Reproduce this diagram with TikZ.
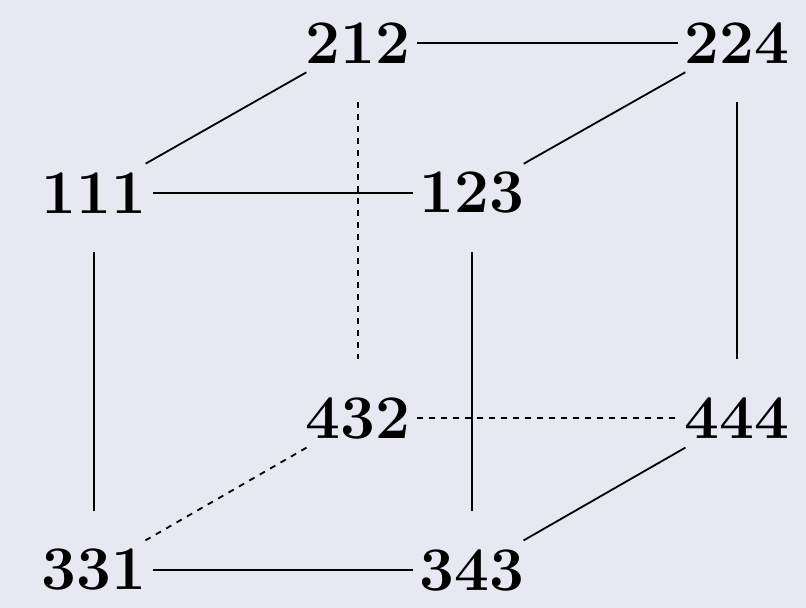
\documentclass[tikz,border=0pt]{standalone}
\usepackage{fontspec}
\usetikzlibrary{positioning}
\definecolor{CubePaper}{HTML}{E8E8F2}
\definecolor{CubeInk}{HTML}{000000}
\tikzset{
  every node/.style={text=CubeInk},
  vertex/.style={circle, inner sep=0pt, minimum size=59pt, font=\fontsize{31}{36}\selectfont\bfseries},
  edge/.style={draw=CubeInk, line width=0.9pt},
  hidden/.style={draw=CubeInk, line width=0.9pt, dashed},
}

\begin{document}
\begin{tikzpicture}[x=0.5pt,y=-0.5pt]
  % Canvas: units are pixels of the 806 x 608 frame
  \fill[CubePaper] (0,0) rectangle (806,608);
  \useasboundingbox (0,0) rectangle (806,608);
  % Back face
  \node[vertex] (b212) at (358,43) {212};
  \node[vertex] (b224) at (737,43) {224};
  \node[vertex] (b432) at (358,418) {432};
  \node[vertex] (b444) at (737,418) {444};
  % Front face
  \node[vertex] (f111) at (94,193) {111};
  \node[vertex] (f123) at (472,193) {123};
  \node[vertex] (f331) at (94,570) {331};
  \node[vertex] (f343) at (472,570) {343};
  % Visible edges
  \draw[edge] (b212) -- (b224);
  \draw[edge] (f111) -- (f123);
  \draw[edge] (f331) -- (f343);
  \draw[edge] (f111) -- (b212);
  \draw[edge] (f123) -- (b224);
  \draw[edge] (f343) -- (b444);
  \draw[edge] (f111) -- (f331);
  \draw[edge] (f123) -- (f343);
  \draw[edge] (b224) -- (b444);
  % Hidden edges
  \draw[hidden] (b212) -- (b432);
  \draw[hidden] (b432) -- (b444);
  \draw[hidden] (b432) -- (f331);
\end{tikzpicture}
\end{document}
